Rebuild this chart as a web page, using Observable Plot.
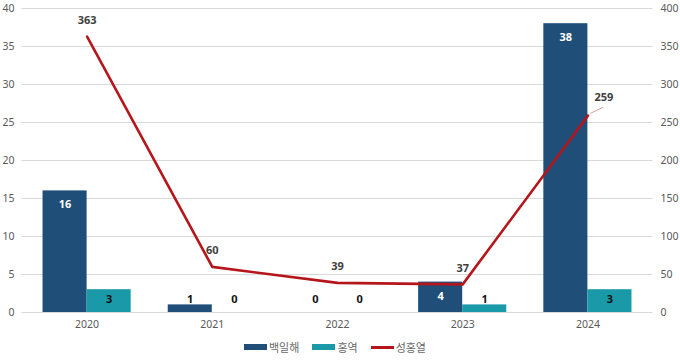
<!DOCTYPE html>
<html><head><meta charset="utf-8">
<script src="https://cdn.jsdelivr.net/npm/d3@7"></script>
<script src="https://cdn.jsdelivr.net/npm/@observablehq/plot@0.6"></script>
<style>
body{margin:0;background:#fff;font-family:"Noto Sans","Noto Sans CJK KR",sans-serif;}
#legend{display:flex;justify-content:center;align-items:center;gap:13px;height:26px;font-size:11px;color:#6a6a6a;font-family:"Noto Sans CJK KR","Noto Sans",sans-serif;margin-left:-10px;margin-top:-2px}
#legend span{display:flex;align-items:center}
#legend i{display:inline-block;width:23px;margin-right:2px}
</style></head>
<body><div id="chart"></div>
<div id="legend"></div>
<script>
const years = [2020, 2021, 2022, 2023, 2024];
const pertussis = [16, 1, 0, 4, 38];       // 백일해 (left axis)
const measles = [3, 0, 0, 1, 3];           // 홍역 (left axis)
const scarlet = [363, 60, 39, 37, 259];    // 성홍열 (right axis)
const seriesNames = ["백일해", "홍역", "성홍열"];
const colors = ["#1f4e79", "#1a9aa9", "#b5161b"];

const bars = [];
years.forEach((y, i) => {
  bars.push({year: y, s: 0, v: pertussis[i]});
  bars.push({year: y, s: 1, v: measles[i]});
});
const line = years.map((y, i) => ({year: y, v: scarlet[i]}));
const W = 0.352;
const bx1 = d => d.s === 0 ? d.year - W : d.year;
const bx2 = d => d.s === 0 ? d.year : d.year + W;
const bxc = d => d.s === 0 ? d.year - W / 2 : d.year + W / 2;
const inside = bars.filter(d => d.v >= 4);
const outside = bars.filter(d => d.v < 4);
const lbl = {fontFamily: "Noto Sans", fontWeight: "bold", fontSize: 11};

const chart = Plot.plot({
  width: 680, height: 336,
  marginTop: 8, marginBottom: 24, marginLeft: 24, marginRight: 30,
  style: {fontFamily: "Noto Sans", fontSize: "10px", color: "#595959"},
  x: {type: "linear", domain: [2019.5, 2024.5], axis: null, label: null},
  y: {domain: [0, 40], axis: null, label: null},
  marks: [
    Plot.gridY(d3.range(0, 41, 5), {stroke: "#d9d9d9", strokeOpacity: 1, x1: 2019.48, x2: 2024.52}),
    Plot.axisY(d3.range(0, 41, 5), {anchor: "left", label: null, tickSize: 0, tickPadding: 10, fill: "#595959", fontSize: 10.5}),
    Plot.axisY(d3.range(0, 41, 5), {anchor: "right", label: null, tickSize: 0, tickPadding: 10, tickFormat: d => d * 10, fill: "#595959", fontSize: 10.5}),
    Plot.axisX(years, {label: null, tickSize: 0, tickPadding: 8, tickFormat: d => String(d), fill: "#595959", fontSize: 10.5}),
    Plot.rectY(bars, {x1: bx1, x2: bx2, y1: 0, y2: "v", fill: d => colors[d.s]}),
    Plot.line(line, {x: "year", y: d => d.v / 10, stroke: colors[2], strokeWidth: 2.6}),
    Plot.text(inside, {x: bxc, y: "v", dy: 14, text: d => String(d.v), fill: "white", ...lbl}),
    Plot.text(outside, {x: bxc, y: 0, dy: -13, text: d => String(d.v), fill: "#111", ...lbl}),
    Plot.text(line.filter(d => d.year !== 2024), {x: "year", y: d => d.v / 10, dy: -16, text: d => String(d.v), fill: "#404040", ...lbl}),
    Plot.link(line.filter(d => d.year === 2024), {x1: d => d.year + 0.02, y1: d => d.v / 10 + 0.3, x2: d => d.year + 0.12, y2: d => d.v / 10 + 1.1, stroke: "#e09a9a", strokeWidth: 1}),
    Plot.text(line.filter(d => d.year === 2024), {x: "year", y: d => d.v / 10, dx: 16, dy: -18, text: d => String(d.v), fill: "#404040", ...lbl})
  ]
});
document.getElementById("chart").append(chart);

const leg = document.getElementById("legend");
seriesNames.forEach((n, i) => {
  const s = document.createElement("span");
  const sw = document.createElement("i");
  sw.style.height = i === 2 ? "3px" : "6px";
  sw.style.background = colors[i];
  s.append(sw, document.createTextNode(n));
  leg.append(s);
});
</script></body></html>
